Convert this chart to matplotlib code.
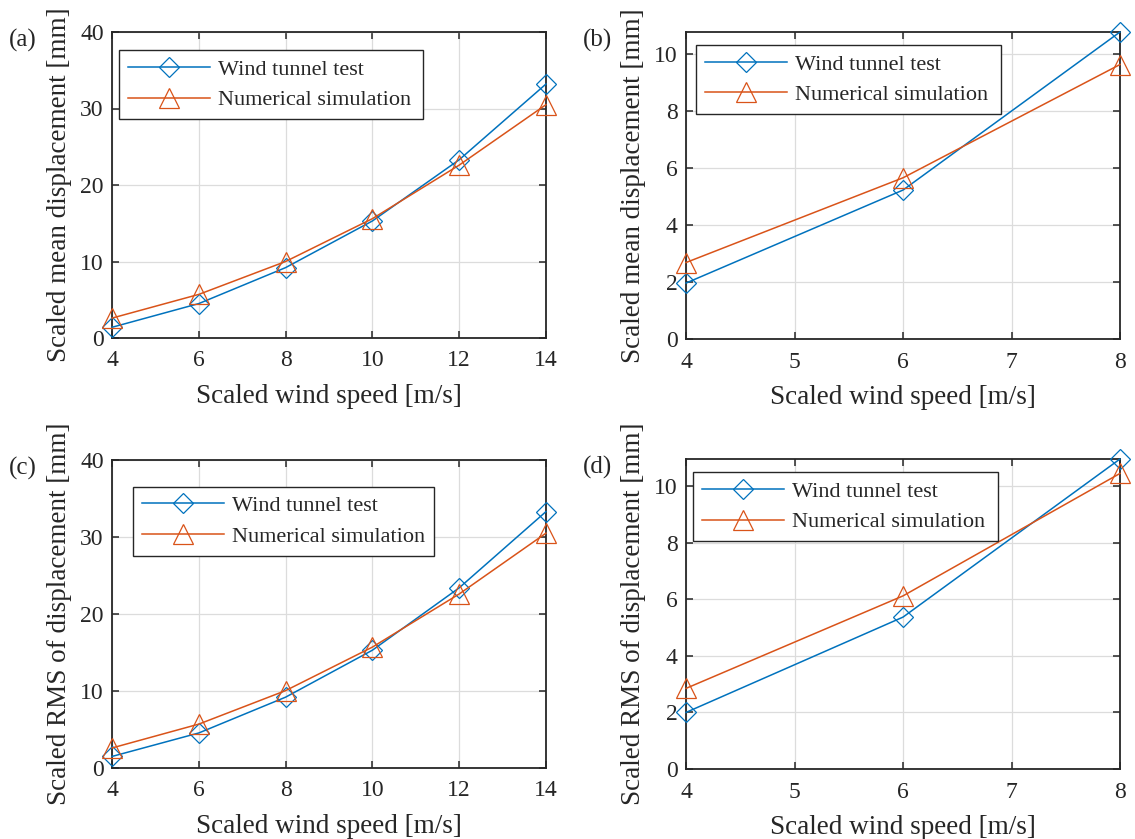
import numpy as np
import matplotlib.pyplot as plt

# wind speeds
speed_ac = [4, 6, 8, 10, 12, 14]
speed_bd = [4, 6, 8]

# (a) scaled mean displacement, full range
wind_a = [1.4, 4.5, 9.2, 15.3, 23.3, 33.2]
num_a = [2.6, 5.7, 10.0, 15.6, 22.6, 30.5]
# (b) scaled mean displacement, low speeds
wind_b = [1.96, 5.22, 10.76]
num_b = [2.68, 5.65, 9.62]
# (c) scaled RMS of displacement, full range
wind_c = [1.5, 4.55, 9.2, 15.3, 23.4, 33.3]
num_c = [2.6, 5.7, 10.05, 15.7, 22.6, 30.5]
# (d) scaled RMS of displacement, low speeds
wind_d = [2.0, 5.37, 10.96]
num_d = [2.85, 6.12, 10.45]

panel_tags = ['(a)', '(b)', '(c)', '(d)']
ylabels = ['Scaled mean displacement [mm]', 'Scaled mean displacement [mm]',
           'Scaled RMS of displacement [mm]', 'Scaled RMS of displacement [mm]']
xlabel = 'Scaled wind speed [m/s]'
legend_labels = ['Wind tunnel test', 'Numerical simulation']

plt.rcParams['font.family'] = ['Liberation Serif', 'DejaVu Serif']

blue = '#0072BD'
orange = '#D95319'
dark = '#262626'

fig = plt.figure(figsize=(11.35, 8.39), dpi=100)

# axes boxes in pixels: left, top, right, bottom
boxes = [(112, 32, 546, 338), (686, 32, 1120, 339),
         (112, 460, 546, 768), (686, 459, 1120, 769)]
# legend boxes in axes fraction: x0, y0, x1, y1
leg_boxes = [(0.016, 0.733, 0.716, 0.940), (0.023, 0.751, 0.726, 0.957),
             (0.048, 0.708, 0.742, 0.913), (0.017, 0.751, 0.720, 0.957)]

xs = [speed_ac, speed_bd, speed_ac, speed_bd]
winds = [wind_a, wind_b, wind_c, wind_d]
nums = [num_a, num_b, num_c, num_d]
W, H = 1135.0, 839.0

for i in range(4):
    l, t, r, b = boxes[i]
    ax = fig.add_axes([l / W, 1 - b / H, (r - l) / W, (b - t) / H])
    x = xs[i]
    ax.plot(x, winds[i], '-', color=blue, lw=1.1, marker='D', ms=10.5,
            mfc='none', mec=blue, mew=0.9, clip_on=False, zorder=3, label=legend_labels[0])
    ax.plot(x, nums[i], '-', color=orange, lw=1.1, marker='^', ms=14,
            mfc='none', mec=orange, mew=0.9, clip_on=False, zorder=3, label=legend_labels[1])

    ax.set_xlim(x[0], x[-1])
    if i % 2 == 0:
        ax.set_ylim(0, 40)
        ax.set_xticks(np.arange(4, 15, 2))
        ax.set_yticks(np.arange(0, 41, 10))
    else:
        ax.set_ylim(0, max(winds[i]))
        ax.set_xticks(np.arange(4, 9, 1))
        ax.set_yticks(np.arange(0, 11, 2))

    ax.grid(True, color='#dcdcdc', lw=0.9)
    ax.set_axisbelow(True)
    for s in ax.spines.values():
        s.set_color(dark)
        s.set_linewidth(1.3)
    ax.tick_params(direction='in', length=5, width=1.1, colors=dark,
                   labelsize=17, top=True, right=True)
    ax.tick_params(axis='x', pad=9)
    ax.tick_params(axis='y', pad=6)
    ax.set_xlabel(xlabel, fontsize=19.5, color=dark, labelpad=9)
    ax.set_ylabel(ylabels[i], fontsize=19.5, color=dark, labelpad=6)

    x0, y0, x1, y1 = leg_boxes[i]
    leg = ax.legend(loc='upper left', bbox_to_anchor=(x0, y0, x1 - x0, y1 - y0),
                    mode='expand', borderaxespad=0, fontsize=16, fancybox=False,
                    framealpha=1, edgecolor=dark, handlelength=3.7,
                    handletextpad=0.35, borderpad=0.4, labelspacing=0.45)
    leg.get_frame().set_linewidth(1.0)
    for txt in leg.get_texts():
        txt.set_color(dark)

    fig.text((l - 103) / W, 1 - (t + 8) / H, panel_tags[i], fontsize=18,
             color=dark, ha='left', va='center')

fig.savefig('out.png', dpi=100)
